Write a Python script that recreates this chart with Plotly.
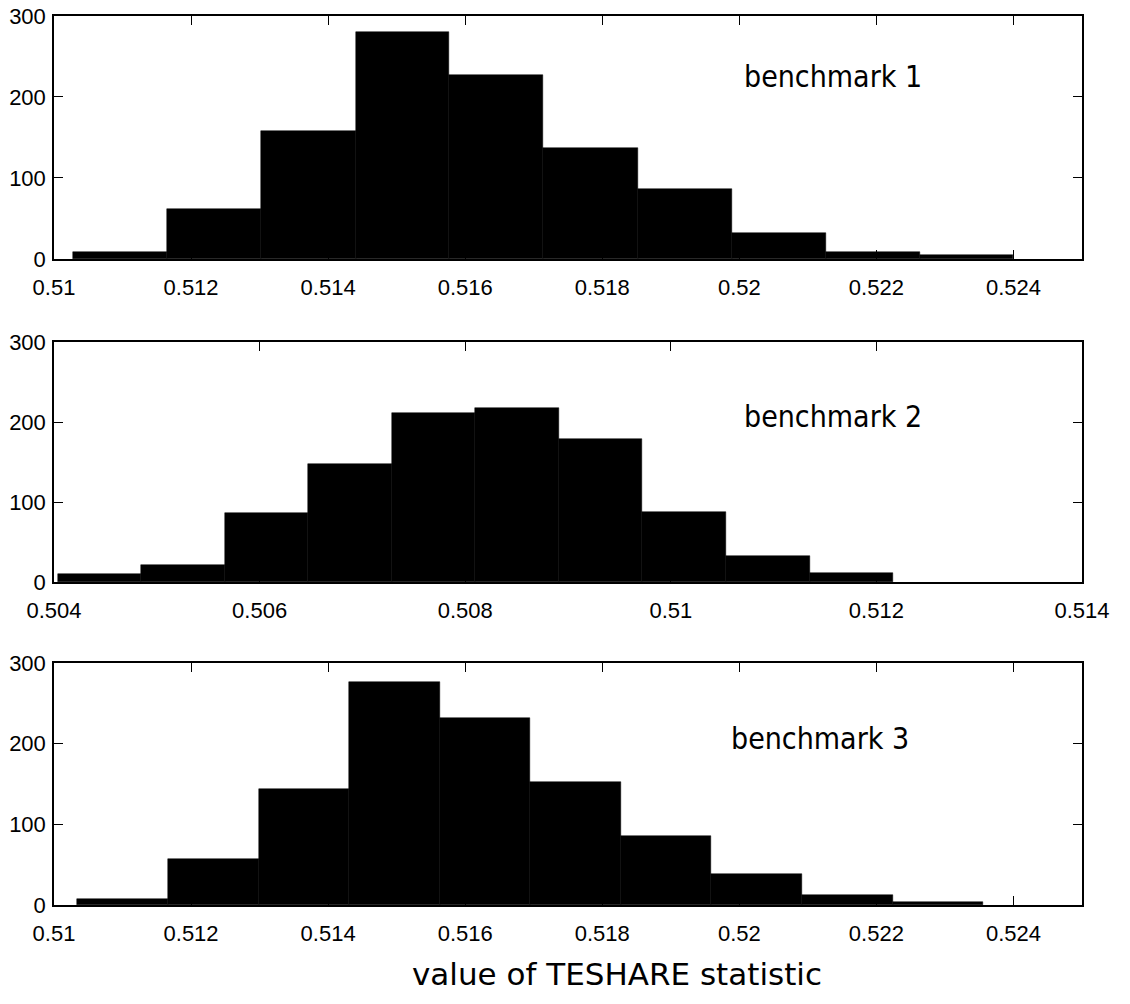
import numpy as np
import plotly.graph_objects as go

# ---- data ----
edges_b1 = [0.51028, 0.51165, 0.51302, 0.51440, 0.51577, 0.51714, 0.51852, 0.51989, 0.52126, 0.52263, 0.52400]
counts_b1 = [8, 62, 158, 280, 227, 137, 86, 32, 8, 5]

edges_b2 = [0.50404, 0.50485, 0.50566, 0.50647, 0.50729, 0.50810, 0.50891, 0.50972, 0.51054, 0.51135, 0.51216]
counts_b2 = [10, 21, 86, 148, 211, 218, 179, 88, 32, 11]

edges_b3 = [0.51034, 0.51166, 0.51299, 0.51431, 0.51563, 0.51695, 0.51827, 0.51959, 0.52092, 0.52224, 0.52356]
counts_b3 = [8, 57, 144, 276, 232, 153, 85, 38, 12, 4]

labels = ["benchmark 1", "benchmark 2", "benchmark 3"]
xticks_a = [0.51, 0.512, 0.514, 0.516, 0.518, 0.52, 0.522, 0.524]
xticks_b = [0.504, 0.506, 0.508, 0.51, 0.512, 0.514]
yticks = [0, 100, 200, 300]
xlabel = "value of TESHARE statistic"

panels = [
    (edges_b1, counts_b1, xticks_a, [0.51, 0.525], [0.7267, 1.0], 0.758, 0.749),
    (edges_b2, counts_b2, xticks_b, [0.504, 0.514], [0.3633, 0.6333], 0.758, 0.688),
    (edges_b3, counts_b3, xticks_a, [0.51, 0.525], [0.0, 0.2722], 0.745, 0.69),
]

fig = go.Figure()
tickfont = dict(family="Liberation Sans, Arial, sans-serif", size=22, color="black")

for i, (edges, counts, xt, xr, dom, ax, ay) in enumerate(panels):
    e = np.array(edges)
    centers = (e[:-1] + e[1:]) / 2
    widths = np.diff(e)
    n = i + 1
    xa = "x" if n == 1 else f"x{n}"
    ya = "y" if n == 1 else f"y{n}"
    fig.add_trace(go.Bar(
        x=centers, y=counts, width=widths,
        marker=dict(color="black", line=dict(color="black", width=0.5)),
        xaxis=xa, yaxis=ya, showlegend=False, hoverinfo="x+y",
    ))
    xkey = "xaxis" if n == 1 else f"xaxis{n}"
    ykey = "yaxis" if n == 1 else f"yaxis{n}"
    fig.layout[xkey] = dict(
        range=xr, tickvals=xt, ticktext=[f"{v:g}" for v in xt],
        ticks="inside", ticklen=9, tickcolor="black", tickwidth=1,
        showline=True, linecolor="black", linewidth=1.5, mirror="ticks",
        showgrid=False, zeroline=False, anchor=ya, tickfont=tickfont,
        domain=[0, 1], automargin=False, ticklabelstandoff=8,
    )
    fig.layout[ykey] = dict(
        range=[0, 300], tickvals=yticks,
        ticks="inside", ticklen=9, tickcolor="black", tickwidth=1,
        showline=True, linecolor="black", linewidth=1.5, mirror="ticks",
        showgrid=False, zeroline=False, anchor=xa, tickfont=tickfont,
        domain=dom, ticklabelstandoff=2, automargin=False,
    )
    fig.add_annotation(
        text=labels[i], xref=f"{xa} domain", yref=f"{ya} domain",
        x=ax, y=ay, xanchor="center", yanchor="middle", showarrow=False,
        font=dict(family="DejaVu Sans Condensed, DejaVu Sans, sans-serif", size=30, color="black"),
    )

fig.add_annotation(
    text=xlabel, xref="paper", yref="paper", x=0.548, y=-0.078,
    xanchor="center", yanchor="middle", showarrow=False,
    font=dict(family="DejaVu Sans, Verdana, sans-serif", size=31, color="black"),
)

fig.update_layout(
    width=1130, height=1004,
    margin=dict(l=54, r=48, t=16, b=99),
    paper_bgcolor="white", plot_bgcolor="white",
    bargap=0,
)

fig.write_html("out.html")
